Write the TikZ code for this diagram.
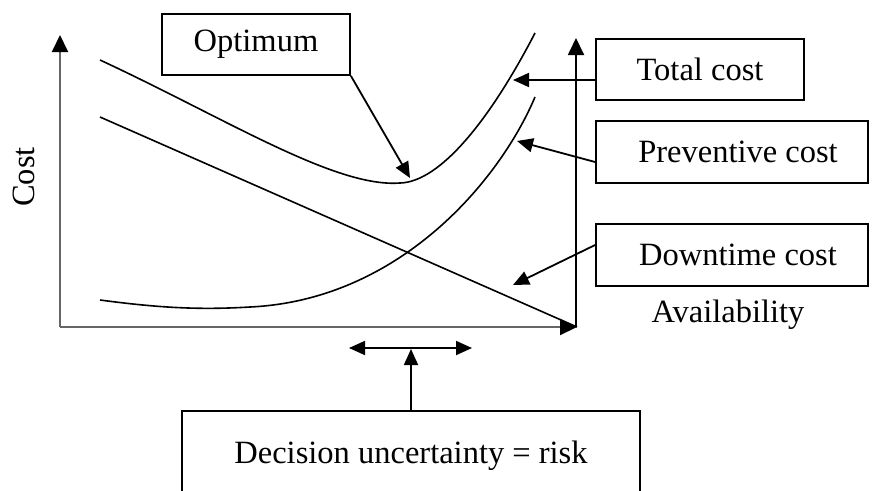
\documentclass[tikz,border=0pt]{standalone}
\usepackage{fontspec}
\setmainfont{Liberation Serif}
\usetikzlibrary{arrows.meta}
\begin{document}
\begin{tikzpicture}[x=1pt,y=-1pt,
  txt/.style={font=\fontsize{32.5}{38}\selectfont},
  box/.style={txt, draw, line width=1.8pt, inner sep=0pt},
  ptr/.style={line width=1.8pt, -{Triangle[length=16pt,width=14pt]}},
  dptr/.style={line width=1.8pt, {Triangle[length=16pt,width=14pt]}-{Triangle[length=16pt,width=14pt]}},
  curve/.style={line width=1.6pt},
  axis/.style={line width=2pt, black!60, -{Triangle[length=17pt,width=16pt,color=black]}}]
\clip (0,0) rectangle (874,490);

% axes
\coordinate (O) at (60,327);
\coordinate (ytip) at (60,35);
\coordinate (xtip) at (577,327);
\coordinate (abase) at (576,327);
\coordinate (atip) at (576,38);
\draw[axis] (O) -- (ytip);
\draw[axis] (O) -- (xtip);
\draw[line width=1.8pt, -{Triangle[length=17pt,width=16pt]}] (abase) -- (atip);

% cost curves
\draw[curve] (100,60) .. controls (225,118) and (335,188) .. (400,183)
                      .. controls (440,182) and (490,120) .. (535,33);
\draw[curve] (100,300) .. controls (160,308) and (200,310) .. (250,307)
                       .. controls (400,300) and (500,180) .. (535,97);
\draw[curve] (100,117) -- (xtip);

% labels
\node[txt, rotate=90] (cost) at (24,177) {Cost};
\node[txt] (avail) at (728,315) {Availability};

\node[box, minimum width=188pt, minimum height=61pt] (opt) at (256,44.5) {Optimum};
\node[box, minimum width=208pt, minimum height=61pt] (tot) at (700,69.5) {Total cost};
\node[box, minimum width=272pt, minimum height=62pt] (prev) at (732,152) {\hspace*{12pt}Preventive cost};
\node[box, minimum width=272pt, minimum height=62pt] (down) at (732,255) {\hspace*{12pt}Downtime cost};
\node[box, minimum width=458pt, minimum height=90pt, anchor=north] (risk) at (411,410) {Decision uncertainty = risk};

% pointers
\coordinate (pOpt) at (410,178);
\coordinate (pTot) at (513,80);
\coordinate (pPrev) at (517,141);
\coordinate (pDown) at (513,285);
\coordinate (rL) at (349,348);
\coordinate (rR) at (472,348);
\coordinate (rM) at (411,349);
\draw[ptr] (opt.south east) -- (pOpt);
\draw[ptr] ([yshift=-10.5pt]tot.west) -- (pTot);
\draw[ptr] ([yshift=-10pt]prev.west) -- (pPrev);
\draw[ptr] ([yshift=10pt]down.west) -- (pDown);
\draw[dptr] (rL) -- (rR);
\draw[ptr] (risk.north) -- (rM);
\end{tikzpicture}
\end{document}
